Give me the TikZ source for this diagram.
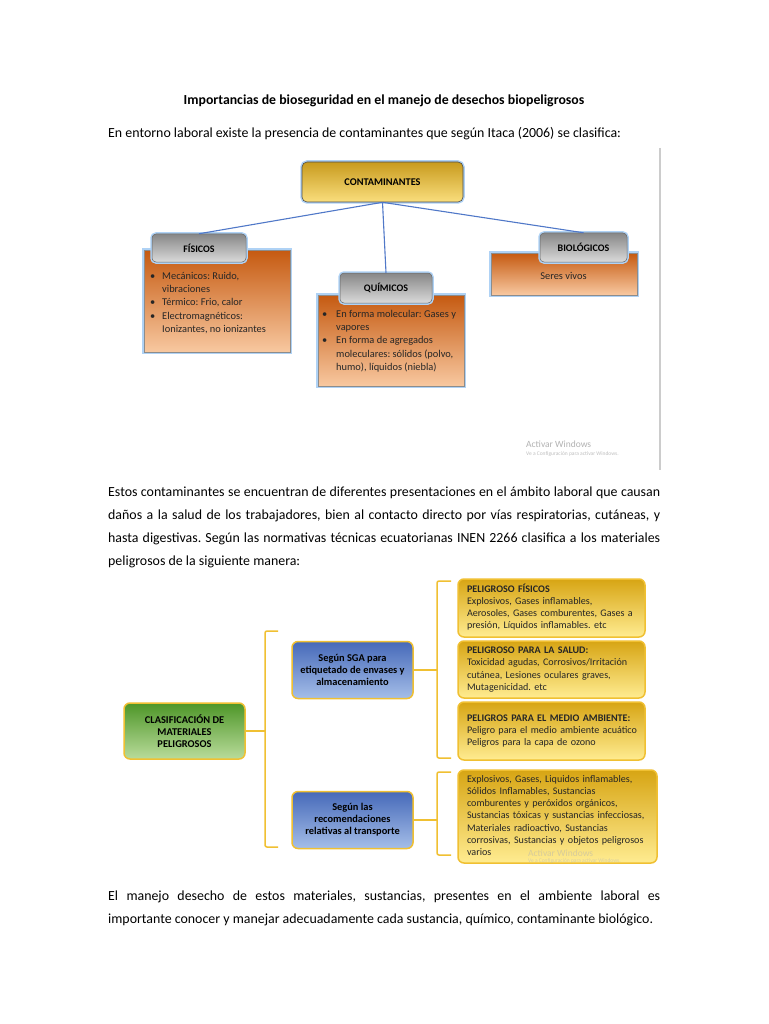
\documentclass[tikz,border=0pt]{standalone}
\usepackage{fontspec}
\setmainfont{Carlito}
\usepackage{tikz}
\usetikzlibrary{positioning}
\definecolor{goldtop}{RGB}{200,155,30}
\definecolor{goldbot}{RGB}{250,222,125}
\definecolor{orgtop}{RGB}{197,90,17}
\definecolor{orgbot}{RGB}{248,200,160}
\definecolor{tabtop}{RGB}{135,135,135}
\definecolor{tabbot}{RGB}{218,218,218}
\definecolor{grntop}{RGB}{78,150,40}
\definecolor{grnbot}{RGB}{185,220,155}
\definecolor{blutop}{RGB}{70,105,185}
\definecolor{blubot}{RGB}{165,190,232}
\definecolor{yeltop}{RGB}{215,165,20}
\definecolor{yelbot}{RGB}{255,236,145}
\definecolor{linkblue}{RGB}{80,120,200}
\definecolor{glowblue}{RGB}{175,210,245}
\definecolor{brk}{RGB}{240,192,50}
\hyphenpenalty=10000
\exhyphenpenalty=10000
\frenchspacing

\begin{document}
\begin{tikzpicture}[x=1pt,y=-1pt,font=\fontsize{13.9}{23}\selectfont,
  para/.style={inner sep=0pt,text width=552pt,align=justify,anchor=north west},
  glow/.style={preaction={draw=glowblue,line width=3.5pt}},
  cbox/.style={glow,draw=black!70,line width=0.6pt,rounded corners=5pt,top color=goldtop,bottom color=goldbot,font=\fontsize{10.3}{12}\selectfont\bfseries},
  obox/.style={glow,draw=black!45,line width=0.5pt,top color=orgtop,bottom color=orgbot},
  tabbox/.style={glow,draw=black!60,line width=0.5pt,rounded corners=4pt,top color=tabtop,bottom color=tabbot,font=\fontsize{10}{12}\selectfont\bfseries},
  list/.style={inner sep=0pt,anchor=north west,font=\fontsize{10.4}{13.2}\selectfont,text=black!85},
  link/.style={draw=linkblue,line width=1.1pt},
  mbox/.style={draw=brk,line width=1.5pt,rounded corners=6pt,align=center,font=\fontsize{10.4}{12}\selectfont\bfseries},
  ybox/.style={draw=brk,line width=1.5pt,rounded corners=6pt,top color=yeltop,bottom color=yelbot,align=left,inner xsep=9pt,inner ysep=2pt,font=\fontsize{10.1}{12.3}\selectfont,text=black!85},
  brace/.style={draw=brk,line width=1.5pt,rounded corners=2pt},
  wm/.style={inner sep=0pt,anchor=base west,text=black!30}]
  \useasboundingbox (0,0) rectangle (768,1024);
  \fill[white] (0,0) rectangle (768,1024);

  % heading and first paragraph
  \node[inner sep=0pt,anchor=base,font=\fontsize{13.8}{23}\selectfont\bfseries] (title) at (384,105)
    {Importancias de bioseguridad en el manejo de desechos biopeligrosos};
  \node[inner sep=0pt,anchor=base west] (p1) at (108,138)
    {En entorno laboral existe la presencia de contaminantes que según Itaca (2006) se clasifica:};

  % first screenshot
  \draw[black!20,line width=1.5pt] (660,148) -- (660,470);
  \node[obox,minimum width=146pt,minimum height=102pt] (fisbox) at (217,301) {};
  \node[obox,minimum width=146pt,minimum height=91pt] (quibox) at (391,340.5) {};
  \node[obox,minimum width=146pt,minimum height=42pt] (biobox) at (564,274) {};
  \node[tabbox,minimum width=94pt,minimum height=28pt] (fistab) at (199,248) {FÍSICOS};
  \node[tabbox,minimum width=92pt,minimum height=30pt] (quitab) at (386,288) {QUÍMICOS};
  \node[tabbox,minimum width=87pt,minimum height=29pt] (biotab) at (583.5,247.5) {BIOLÓGICOS};
  \node[cbox,minimum width=161pt,minimum height=40pt] (cont) at (382.5,182) {CONTAMINANTES};
  \draw[link] (cont.south) -- (fistab.north);
  \draw[link] (cont.south) -- (quitab.north);
  \draw[link] (cont.south) -- (biotab.north);
  \node[list] (fistxt) at (150,270) {\begin{tabular}{@{}p{12pt}@{}l@{}}
    \textbullet & Mecánicos: Ruido,\\ & vibraciones\\
    \textbullet & Térmico: Frio, calor\\
    \textbullet & Electromagnéticos:\\ & Ionizantes, no ionizantes\end{tabular}};
  \node[list] (quitxt) at (322,308) {\begin{tabular}{@{}p{14pt}@{}l@{}}
    \textbullet & En forma molecular: Gases y\\ & vapores\\
    \textbullet & En forma de agregados\\ & moleculares: sólidos (polvo,\\ & humo), líquidos (niebla)\end{tabular}};
  \node[list,anchor=base] (biotxt) at (563.5,279) {Seres vivos};
  \node[wm,font=\fontsize{9.5}{11}\selectfont] (wm1) at (526,447) {Activar Windows};
  \node[wm,font=\fontsize{5.5}{6}\selectfont,text=black!25] (wm2) at (526,455) {Ve a Configuración para activar Windows.};

  % second paragraph
  \node[para] (p2) at (108,487) {Estos contaminantes se encuentran de diferentes presentaciones en el ámbito laboral que causan\linebreak
    daños a la salud de los trabajadores, bien al contacto directo por vías respiratorias, cutáneas, y\linebreak
    hasta digestivas. Según las normativas técnicas ecuatorianas INEN 2266 clasifica a los materiales\linebreak
    peligrosos de la siguiente manera:};

  % second screenshot
  \node[mbox,top color=grntop,bottom color=grnbot,minimum width=121pt,minimum height=56pt] (clas) at (184.5,731)
    {CLASIFICACIÓN DE\\MATERIALES\\PELIGROSOS};
  \node[mbox,top color=blutop,bottom color=blubot,minimum width=121pt,minimum height=57pt] (sga) at (352.5,670)
    {Según SGA para\\etiquetado de envases y\\almacenamiento};
  \node[mbox,top color=blutop,bottom color=blubot,minimum width=121pt,minimum height=57pt] (trans) at (352.5,820)
    {Según las\\recomendaciones\\relativas al transporte};
  \node[ybox,text width=169pt,minimum height=58pt] (pfis) at (551.5,608) {\begin{tabular}{@{}l@{}}
    \textbf{PELIGROSO FÍSICOS}\\Explosivos, Gases inflamables,\\Aerosoles, Gases comburentes, Gases a\\presión, Líquidos inflamables. etc\end{tabular}};
  \node[ybox,text width=169pt,minimum height=57pt] (psal) at (551.5,669.5) {\begin{tabular}{@{}l@{}}
    \textbf{PELIGROSO PARA LA SALUD:}\\Toxicidad agudas, Corrosivos/Irritación\\cutánea, Lesiones oculares graves,\\Mutagenicidad. etc\end{tabular}};
  \node[ybox,text width=169pt,minimum height=58pt] (pamb) at (551.5,731) {\begin{tabular}{@{}l@{}}
    \textbf{PELIGROS PARA EL MEDIO AMBIENTE:}\\Peligro para el medio ambiente acuático\\Peligros para la capa de ozono\end{tabular}};
  \node[ybox,text width=181pt,minimum height=93pt] (ptra) at (557.5,816.5) {\begin{tabular}{@{}l@{}}
    Explosivos, Gases, Liquidos inflamables,\\Sólidos Inflamables, Sustancias\\comburentes y peróxidos orgánicos,\\Sustancias tóxicas y sustancias infecciosas,\\Materiales radioactivo, Sustancias\\corrosivas, Sustancias y objetos peligrosos\\varios\end{tabular}};
  \node[wm,font=\fontsize{9.5}{11}\selectfont,opacity=0.5] (wm3) at (528,856) {Activar Windows};
  \node[wm,font=\fontsize{5.5}{6}\selectfont,opacity=0.5] (wm4) at (528,862) {Ve a Configuración para activar Windows.};

  % brackets
  \coordinate (b1t) at (265,631);
  \coordinate (b1b) at (265,847);
  \coordinate (b2t) at (437,581);
  \coordinate (b2b) at (437,758);
  \coordinate (b3t) at (437,772);
  \coordinate (b3b) at (437,855);
  \draw[brace] (clas.east) -- (clas.east -| b1t);
  \draw[brace] ([xshift=13pt]b1t) -- (b1t) -- (b1b) -- ([xshift=13pt]b1b);
  \draw[brace] (sga.east) -- (sga.east -| b2t);
  \draw[brace] ([xshift=14pt]b2t) -- (b2t) -- (b2b) -- ([xshift=14pt]b2b);
  \draw[brace] (trans.east) -- (trans.east -| b3t);
  \draw[brace] ([xshift=14pt]b3t) -- (b3t) -- (b3b) -- ([xshift=14pt]b3b);

  % closing paragraph
  \node[para] (p3) at (108,891) {El manejo desecho de estos materiales, sustancias, presentes en el ambiente laboral es\linebreak
    importante conocer y manejar adecuadamente cada sustancia, químico, contaminante biológico.};
\end{tikzpicture}
\end{document}
